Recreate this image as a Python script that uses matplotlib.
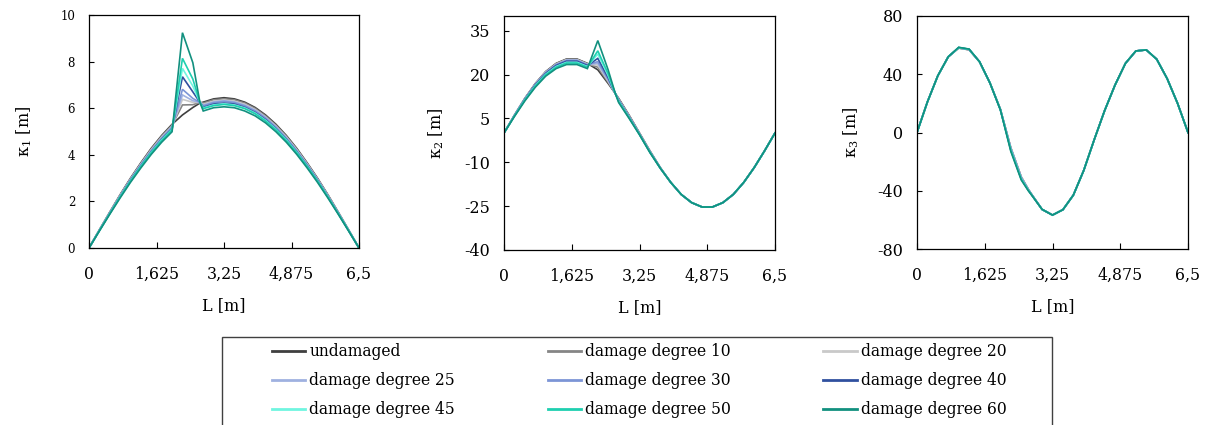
import numpy as np
import matplotlib
matplotlib.use('Agg')
import matplotlib.pyplot as plt
from matplotlib.patches import Rectangle

# 节点位置 L [m]
x_nodes = [0, 0.25, 0.5, 0.75, 1.0, 1.25, 1.5, 1.75, 2.0, 2.25, 2.5, 2.67, 2.75, 3.0,
           3.25, 3.5, 3.75, 4.0, 4.25, 4.5, 4.75, 5.0, 5.25, 5.5, 5.75, 6.0, 6.25, 6.5]

series_labels = ['undamaged', 'damage degree 10', 'damage degree 20', 'damage degree 25',
                 'damage degree 30', 'damage degree 40', 'damage degree 45',
                 'damage degree 50', 'damage degree 60']
series_colors = ['#3f3f3f', '#858585', '#c9c9c9', '#9fb1e0', '#7c95d6', '#30509f',
                 '#70f5e0', '#1ecfb0', '#12907f']

# kappa_1
k1_undamaged = [0, 0.78, 1.54, 2.29, 3.00, 3.66, 4.28, 4.83, 5.31, 5.71, 6.03, 6.22, 6.26, 6.40, 6.45, 6.40, 6.26, 6.03, 5.71, 5.31, 4.83, 4.28, 3.66, 3.00, 2.29, 1.54, 0.78, 0]
k1_d10 = [0, 0.77, 1.53, 2.27, 2.98, 3.63, 4.25, 4.80, 5.27, 6.14, 6.15, 6.25, 6.22, 6.36, 6.40, 6.36, 6.22, 5.99, 5.67, 5.27, 4.80, 4.25, 3.63, 2.98, 2.27, 1.53, 0.77, 0]
k1_d20 = [0, 0.77, 1.52, 2.26, 2.96, 3.61, 4.22, 4.76, 5.23, 6.38, 6.25, 6.25, 6.17, 6.30, 6.35, 6.30, 6.17, 5.94, 5.62, 5.23, 4.76, 4.22, 3.61, 2.96, 2.26, 1.52, 0.77, 0]
k1_d25 = [0, 0.76, 1.51, 2.24, 2.94, 3.59, 4.19, 4.73, 5.20, 6.57, 6.32, 6.25, 6.13, 6.27, 6.32, 6.27, 6.13, 5.91, 5.60, 5.20, 4.73, 4.19, 3.59, 2.94, 2.24, 1.51, 0.76, 0]
k1_d30 = [0, 0.76, 1.50, 2.23, 2.93, 3.57, 4.17, 4.71, 5.18, 6.81, 6.42, 6.25, 6.10, 6.24, 6.29, 6.24, 6.10, 5.88, 5.57, 5.18, 4.71, 4.17, 3.57, 2.93, 2.23, 1.50, 0.76, 0]
k1_d40 = [0, 0.75, 1.49, 2.21, 2.90, 3.53, 4.13, 4.66, 5.12, 7.35, 6.70, 6.25, 6.04, 6.18, 6.22, 6.18, 6.04, 5.82, 5.51, 5.12, 4.66, 4.13, 3.53, 2.90, 2.21, 1.49, 0.75, 0]
k1_d45 = [0, 0.75, 1.48, 2.20, 2.88, 3.51, 4.11, 4.64, 5.10, 7.71, 6.95, 6.25, 6.01, 6.14, 6.19, 6.14, 6.01, 5.79, 5.48, 5.10, 4.64, 4.11, 3.51, 2.88, 2.20, 1.48, 0.75, 0]
k1_d50 = [0, 0.74, 1.47, 2.19, 2.87, 3.50, 4.09, 4.61, 5.07, 8.14, 7.25, 6.25, 5.98, 6.11, 6.16, 6.11, 5.98, 5.76, 5.45, 5.07, 4.61, 4.09, 3.50, 2.87, 2.19, 1.47, 0.74, 0]
k1_d60 = [0, 0.73, 1.45, 2.15, 2.82, 3.44, 4.02, 4.54, 4.99, 9.24, 7.95, 6.25, 5.88, 6.02, 6.06, 6.02, 5.88, 5.67, 5.37, 4.99, 4.54, 4.02, 3.44, 2.82, 2.15, 1.45, 0.73, 0]

# kappa_2
k2_undamaged = [0, 6.1, 11.85, 16.9, 21.0, 23.8, 25.3, 25.3, 23.8, 21.6, 16.9, 13.5, 11.85, 6.1, 0, -6.1, -11.85, -16.9, -21.0, -23.8, -25.3, -25.3, -23.8, -21.0, -16.9, -11.85, -6.1, 0]
k2_d10 = [0, 6.07, 11.79, 16.82, 20.9, 23.68, 25.17, 25.17, 23.68, 22.5, 17.3, 13.5, 11.7, 5.95, -0.1, -6.2, -11.9, -16.9, -21.0, -23.8, -25.3, -25.3, -23.8, -21.0, -16.9, -11.85, -6.1, 0]
k2_d20 = [0, 6.04, 11.73, 16.73, 20.79, 23.56, 25.05, 25.05, 23.56, 23.2, 17.7, 13.5, 11.5, 5.8, -0.2, -6.3, -11.95, -16.9, -21.0, -23.8, -25.3, -25.3, -23.8, -21.0, -16.9, -11.85, -6.1, 0]
k2_d25 = [0, 6.01, 11.67, 16.65, 20.69, 23.44, 24.92, 24.92, 23.44, 23.8, 18.0, 13.5, 11.4, 5.7, -0.3, -6.35, -11.95, -16.9, -21.0, -23.8, -25.3, -25.3, -23.8, -21.0, -16.9, -11.85, -6.1, 0]
k2_d30 = [0, 5.98, 11.61, 16.56, 20.58, 23.32, 24.79, 24.79, 23.32, 24.4, 18.3, 13.5, 11.3, 5.6, -0.35, -6.4, -12.0, -16.9, -21.0, -23.8, -25.3, -25.3, -23.8, -21.0, -16.9, -11.85, -6.1, 0]
k2_d40 = [0, 5.92, 11.49, 16.39, 20.37, 23.09, 24.54, 24.54, 23.09, 25.5, 18.9, 13.5, 11.1, 5.45, -0.45, -6.5, -12.0, -16.9, -21.0, -23.8, -25.3, -25.3, -23.8, -21.0, -16.9, -11.85, -6.1, 0]
k2_d45 = [0, 5.83, 11.32, 16.14, 20.06, 22.73, 24.16, 24.16, 22.73, 27.0, 19.6, 13.5, 10.9, 5.3, -0.5, -6.55, -12.05, -16.9, -21.0, -23.8, -25.3, -25.3, -23.8, -21.0, -16.9, -11.85, -6.1, 0]
k2_d50 = [0, 5.76, 11.2, 15.97, 19.85, 22.49, 23.91, 23.91, 22.49, 28.1, 20.2, 13.5, 10.7, 5.2, -0.55, -6.6, -12.05, -16.9, -21.0, -23.8, -25.3, -25.3, -23.8, -21.0, -16.9, -11.85, -6.1, 0]
k2_d60 = [0, 5.64, 10.96, 15.63, 19.43, 22.02, 23.4, 23.4, 22.02, 31.6, 21.5, 13.5, 10.4, 5.0, -0.6, -6.7, -12.1, -16.9, -21.0, -23.8, -25.3, -25.3, -23.8, -21.0, -16.9, -11.85, -6.1, 0]

# kappa_3
k3_undamaged = [0, 21, 39, 52, 58.0, 56.8, 48.6, 34, 16.0, -10.5, -30.5, -39.0, -42.5, -52.8, -56.7, -53, -43, -26, -5, 15, 32.6, 47.5, 56, 56.7, 50.3, 37, 20, 0]
k3_d10 = [0, 21, 39, 52, 58.0, 56.8, 48.6, 34, 16.0, -10.5, -30.5, -39.0, -42.5, -52.8, -56.7, -53, -43, -26, -5, 15, 32.6, 47.5, 56, 56.7, 50.3, 37, 20, 0]
k3_d20 = [0, 21, 39, 52, 58.0, 56.8, 48.6, 34, 16.0, -10.5, -30.5, -39.0, -42.5, -52.8, -56.7, -53, -43, -26, -5, 15, 32.6, 47.5, 56, 56.7, 50.3, 37, 20, 0]
k3_d25 = [0, 21, 39, 52, 58.2, 57.0, 48.6, 34, 15.8, -11.0, -31.0, -39.3, -42.6, -52.8, -56.7, -53, -43, -26, -5, 15, 32.6, 47.5, 56, 56.7, 50.3, 37, 20, 0]
k3_d30 = [0, 21, 39, 52, 58.2, 57.0, 48.6, 34, 15.8, -11.0, -31.0, -39.3, -42.6, -52.8, -56.7, -53, -43, -26, -5, 15, 32.6, 47.5, 56, 56.7, 50.3, 37, 20, 0]
k3_d40 = [0, 21, 39, 52, 58.3, 57.1, 48.6, 34, 15.7, -11.8, -31.7, -39.6, -42.8, -52.8, -56.7, -53, -43, -26, -5, 15, 32.6, 47.5, 56, 56.7, 50.3, 37, 20, 0]
k3_d45 = [0, 21, 39, 52, 58.3, 57.1, 48.6, 34, 15.7, -11.8, -31.7, -39.6, -42.8, -52.8, -56.7, -53, -43, -26, -5, 15, 32.6, 47.5, 56, 56.7, 50.3, 37, 20, 0]
k3_d50 = [0, 21, 39, 52, 58.4, 57.2, 48.6, 34, 15.6, -12.3, -32.1, -39.8, -42.9, -52.8, -56.7, -53, -43, -26, -5, 15, 32.6, 47.5, 56, 56.7, 50.3, 37, 20, 0]
k3_d60 = [0, 21, 39, 52, 58.5, 57.3, 48.6, 34, 15.5, -13.0, -32.6, -40.0, -43.0, -52.8, -56.7, -53, -43, -26, -5, 15, 32.6, 47.5, 56, 56.7, 50.3, 37, 20, 0]

x_ticks = [0, 1.625, 3.25, 4.875, 6.5]
x_ticklabels = ['0', '1,625', '3,25', '4,875', '6,5']
k1_yticks = [0, 2, 4, 6, 8, 10]
k2_yticks = [-40, -25, -10, 5, 20, 35]
k3_yticks = [-80, -40, 0, 40, 80]

plt.rcParams['font.family'] = ['DejaVu Serif']
plt.rcParams['mathtext.fontset'] = 'dejavuserif'

W, H = 1211, 425
fig = plt.figure(figsize=(W / 100, H / 100), dpi=100)


def px_axes(left, top, right, bottom):
    return fig.add_axes([left / W, 1 - bottom / H, (right - left) / W, (bottom - top) / H])


def draw_panel(ax, data, ylim, yticks, ylabel, ytick_size, label_x):
    for vals, col in zip(data, series_colors):
        ax.plot(x_nodes, vals, color=col, lw=1.2, solid_joinstyle='miter')
    ax.set_xlim(0, 6.5)
    ax.set_ylim(*ylim)
    ax.set_xticks(x_ticks)
    ax.set_xticklabels(x_ticklabels)
    ax.set_yticks(yticks)
    ax.set_yticklabels([str(t) for t in yticks])
    ax.tick_params(axis='x', direction='in', length=4.5, width=0.8, pad=13, labelsize=11.3)
    ax.tick_params(axis='y', direction='in', length=3.5, width=0.8, pad=10, labelsize=ytick_size)
    for sp in ax.spines.values():
        sp.set_linewidth(0.9)
    ax.set_xlabel('L [m]', fontsize=11.5, labelpad=10)
    ax.set_ylabel(ylabel, fontsize=11.5)
    ax.yaxis.set_label_coords(label_x, 0.5)


ax1 = px_axes(89, 15, 359, 248)
ax2 = px_axes(504, 16, 775, 250)
ax3 = px_axes(917, 16, 1188, 249)

draw_panel(ax1, [k1_undamaged, k1_d10, k1_d20, k1_d25, k1_d30, k1_d40, k1_d45, k1_d50, k1_d60],
           (0, 10), k1_yticks, r'κ$_1$ [m]', 8.5, -0.205)
draw_panel(ax2, [k2_undamaged, k2_d10, k2_d20, k2_d25, k2_d30, k2_d40, k2_d45, k2_d50, k2_d60],
           (-40, 40), k2_yticks, r'κ$_2$ [m]', 11.5, -0.215)
draw_panel(ax3, [k3_undamaged, k3_d10, k3_d20, k3_d25, k3_d30, k3_d40, k3_d45, k3_d50, k3_d60],
           (-80, 80), k3_yticks, r'κ$_3$ [m]', 11.5, -0.205)

# 图例外框（下边超出画布）
fig.patches.append(Rectangle((222 / W, -0.1), (1052 - 222) / W, (1 - 337 / H) + 0.1,
                             transform=fig.transFigure, fill=False, edgecolor='#404040', lw=1.0))

handles = ax1.get_lines()
order = [0, 3, 6, 1, 4, 7, 2, 5, 8]  # 按行排列
leg = fig.legend([handles[i] for i in order], [series_labels[i] for i in order],
                 loc='upper left', bbox_to_anchor=(272 / W, 1 - 343 / H), ncol=3,
                 frameon=False, fontsize=11.2, handlelength=2.15, handletextpad=0.25,
                 columnspacing=5.95, labelspacing=0.78, borderpad=0, borderaxespad=0)
for ln in leg.get_lines():
    ln.set_linewidth(2.0)

fig.savefig('out.png', dpi=100)
